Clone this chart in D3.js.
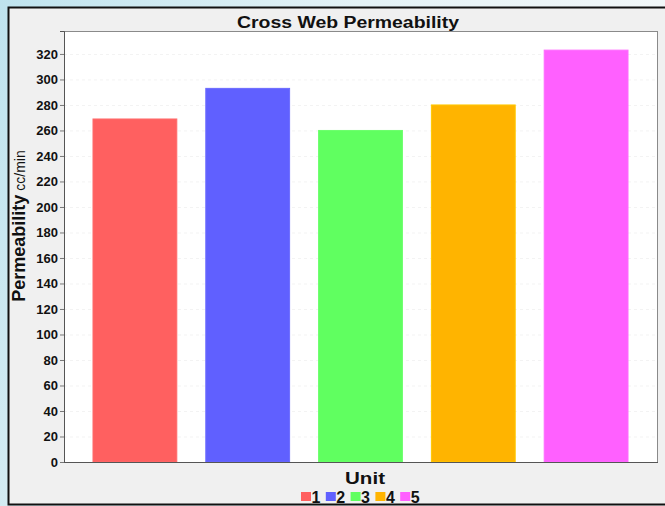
<!DOCTYPE html>
<html>
<head>
<meta charset="utf-8">
<script src="https://cdn.jsdelivr.net/npm/d3@7"></script>
<style>
  html, body { margin: 0; padding: 0; }
  body { width: 665px; height: 506px; overflow: hidden; }
  text { font-family: "Liberation Sans", Arial, sans-serif; }
</style>
</head>
<body>
<svg id="chart" width="665" height="506"></svg>
<script>
// Cross web permeability per unit (cc/min)
const units = ["1", "2", "3", "4", "5"];
const permeability = [269, 293, 260, 280, 323];
const unitColors = ["#ff6060", "#6060ff", "#60ff60", "#ffb400", "#ff60ff"];
const yTicks = [0, 20, 40, 60, 80, 100, 120, 140, 160, 180, 200, 220, 240, 260, 280, 300, 320];

const svg = d3.select("#chart");
const W = 665, H = 506;

// backdrop
const defs = svg.append("defs");
const bg = defs.append("linearGradient").attr("id", "bgGrad")
  .attr("x1", "0").attr("y1", "0").attr("x2", "1").attr("y2", "0.3");
bg.append("stop").attr("offset", "0").attr("stop-color", "#bfe3ee");
bg.append("stop").attr("offset", "0.5").attr("stop-color", "#e4f2f6");
bg.append("stop").attr("offset", "1").attr("stop-color", "#f4f8f9");
svg.append("rect").attr("width", W).attr("height", H).attr("fill", "url(#bgGrad)");

// chart panel
svg.append("rect")
  .attr("x", 8.5).attr("y", 7.5).attr("width", 700).attr("height", 497)
  .attr("fill", "#f0f0f0").attr("stroke", "#111").attr("stroke-width", 2);

const plot = { left: 64, right: 657, top: 31, bottom: 462 };

const x = d3.scaleBand()
  .domain(units)
  .range([plot.left, plot.right])
  .paddingInner(0.257)
  .paddingOuter(0.257);

const y = d3.scaleLinear()
  .domain([0, 338])
  .range([plot.bottom, plot.top]);

// plot background
svg.append("rect")
  .attr("x", plot.left).attr("y", plot.top)
  .attr("width", plot.right - plot.left).attr("height", plot.bottom - plot.top)
  .attr("fill", "#ffffff");

// faint gridlines
svg.append("g")
  .selectAll("line")
  .data(yTicks.filter(d => d > 0))
  .join("line")
  .attr("x1", plot.left).attr("x2", plot.right)
  .attr("y1", d => y(d) + 0.5).attr("y2", d => y(d) + 0.5)
  .attr("stroke", "#f3f3f3").attr("stroke-dasharray", "3,3");

// bars
svg.append("g")
  .selectAll("rect")
  .data(units)
  .join("rect")
  .attr("x", d => x(d))
  .attr("y", (d, i) => y(permeability[i]))
  .attr("width", x.bandwidth())
  .attr("height", (d, i) => y(0) - y(permeability[i]))
  .attr("fill", (d, i) => unitColors[i])
  .attr("stroke", (d, i) => d3.color(unitColors[i]).brighter(0.3))
  .attr("stroke-width", 1);

// plot frame
svg.append("rect")
  .attr("x", plot.left + 0.5).attr("y", plot.top + 0.5)
  .attr("width", plot.right - plot.left).attr("height", plot.bottom - plot.top)
  .attr("fill", "none").attr("stroke", "#8a8a8a").attr("stroke-width", 1);

// y axis
const yAxis = svg.append("g")
  .attr("transform", `translate(${plot.left},0)`)
  .call(d3.axisLeft(y).tickValues(yTicks).tickSize(4).tickPadding(2));
yAxis.select(".domain").attr("stroke", "#555");
yAxis.selectAll(".tick line").attr("stroke", "#777");
yAxis.selectAll(".tick text")
  .attr("fill", "#111")
  .style("font-family", "'Liberation Sans', Arial, sans-serif")
  .style("font-size", "13px")
  .style("font-weight", "bold");

// x axis baseline
svg.append("line")
  .attr("x1", plot.left).attr("x2", plot.right + 1)
  .attr("y1", plot.bottom + 0.5).attr("y2", plot.bottom + 0.5)
  .attr("stroke", "#555");

// title
svg.append("text")
  .attr("x", 348).attr("y", 28)
  .attr("text-anchor", "middle")
  .attr("textLength", 222).attr("lengthAdjust", "spacingAndGlyphs")
  .style("font-size", "16px").style("font-weight", "bold").attr("fill", "#111")
  .text("Cross Web Permeability");

// y axis title
const yTitle = svg.append("text")
  .attr("transform", "translate(25,226) rotate(-90)")
  .attr("text-anchor", "middle")
  .attr("fill", "#111");
yTitle.append("tspan").style("font-size", "18px").style("font-weight", "bold").text("Permeability");
yTitle.append("tspan").style("font-size", "14px").text(" cc/min");

// x axis title
svg.append("text")
  .attr("x", 365).attr("y", 484)
  .attr("text-anchor", "middle")
  .attr("textLength", 40).attr("lengthAdjust", "spacingAndGlyphs")
  .style("font-size", "17px").style("font-weight", "bold").attr("fill", "#111")
  .text("Unit");

// legend
const legend = svg.append("g").attr("transform", "translate(301,0)");
const item = legend.selectAll("g")
  .data(units)
  .join("g")
  .attr("transform", (d, i) => `translate(${i * 24.8},0)`);
item.append("rect")
  .attr("x", 0).attr("y", 492)
  .attr("width", 10).attr("height", 9)
  .attr("fill", (d, i) => unitColors[i]);
item.append("text")
  .attr("x", 10.5).attr("y", 503)
  .style("font-size", "16px").style("font-weight", "bold").attr("fill", "#111")
  .text(d => d);
</script>
</body>
</html>
